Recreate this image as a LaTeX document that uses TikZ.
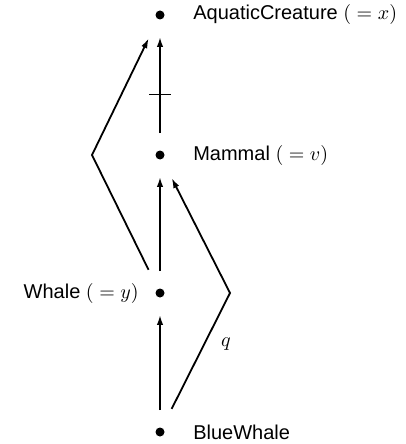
\documentclass[tikz,border=0pt]{standalone}
\usepackage{amsmath}
\usepackage{fontspec}
\setmainfont{Liberation Sans}
\usetikzlibrary{arrows.meta,positioning}

\begin{document}
\begin{tikzpicture}[x=0.5pt, y=-0.5pt,
    dot/.style={circle, fill, inner sep=0pt, minimum size=4.5pt},
    lbl/.style={inner sep=0pt},
    arr/.style={-{Latex[length=5pt,width=3.2pt]}, line width=0.9pt, shorten <=8.5pt, shorten >=8.5pt}]
            \useasboundingbox (0,0) rectangle (406,444);
            \node [dot] (aqua) at (160,15) {};
            \node [dot] (mammal) at (160,155) {};
            \node [dot] (whale) at (160,293) {};
            \node [dot] (blue) at (160,432) {};
            \coordinate (lbend) at (92,155);
            \coordinate (rbend) at (230,293);

            \node [lbl, right=14pt of aqua] (aqualbl) {AquaticCreature $({}=x)$};
            \node [lbl, right=14pt of mammal] (mammallbl) {Mammal $({}=v)$};
            \node [lbl, left=8pt of whale] (whalelbl) {Whale $({}=y)$};
            \node [lbl, right=14pt of blue] (bluelbl) {BlueWhale};
            \node [lbl] (qlbl) at (226,344) {$q$};

            \draw[arr] (blue) -- (whale);
            \draw[arr] (whale) -- (mammal);
            \draw[arr] (mammal) -- (aqua) node [pos=0.43, minimum width=10pt, inner sep=0pt] (cut) {};
            \draw[line width=0.5pt] (cut.west) -- (cut.east);
            \draw[arr, shorten <=10.5pt, shorten >=10.5pt] (whale) -- (lbend) -- (aqua);
            \draw[arr, shorten <=10.5pt, shorten >=10.5pt] (blue) -- (rbend) -- (mammal);
        \end{tikzpicture}
\end{document}
